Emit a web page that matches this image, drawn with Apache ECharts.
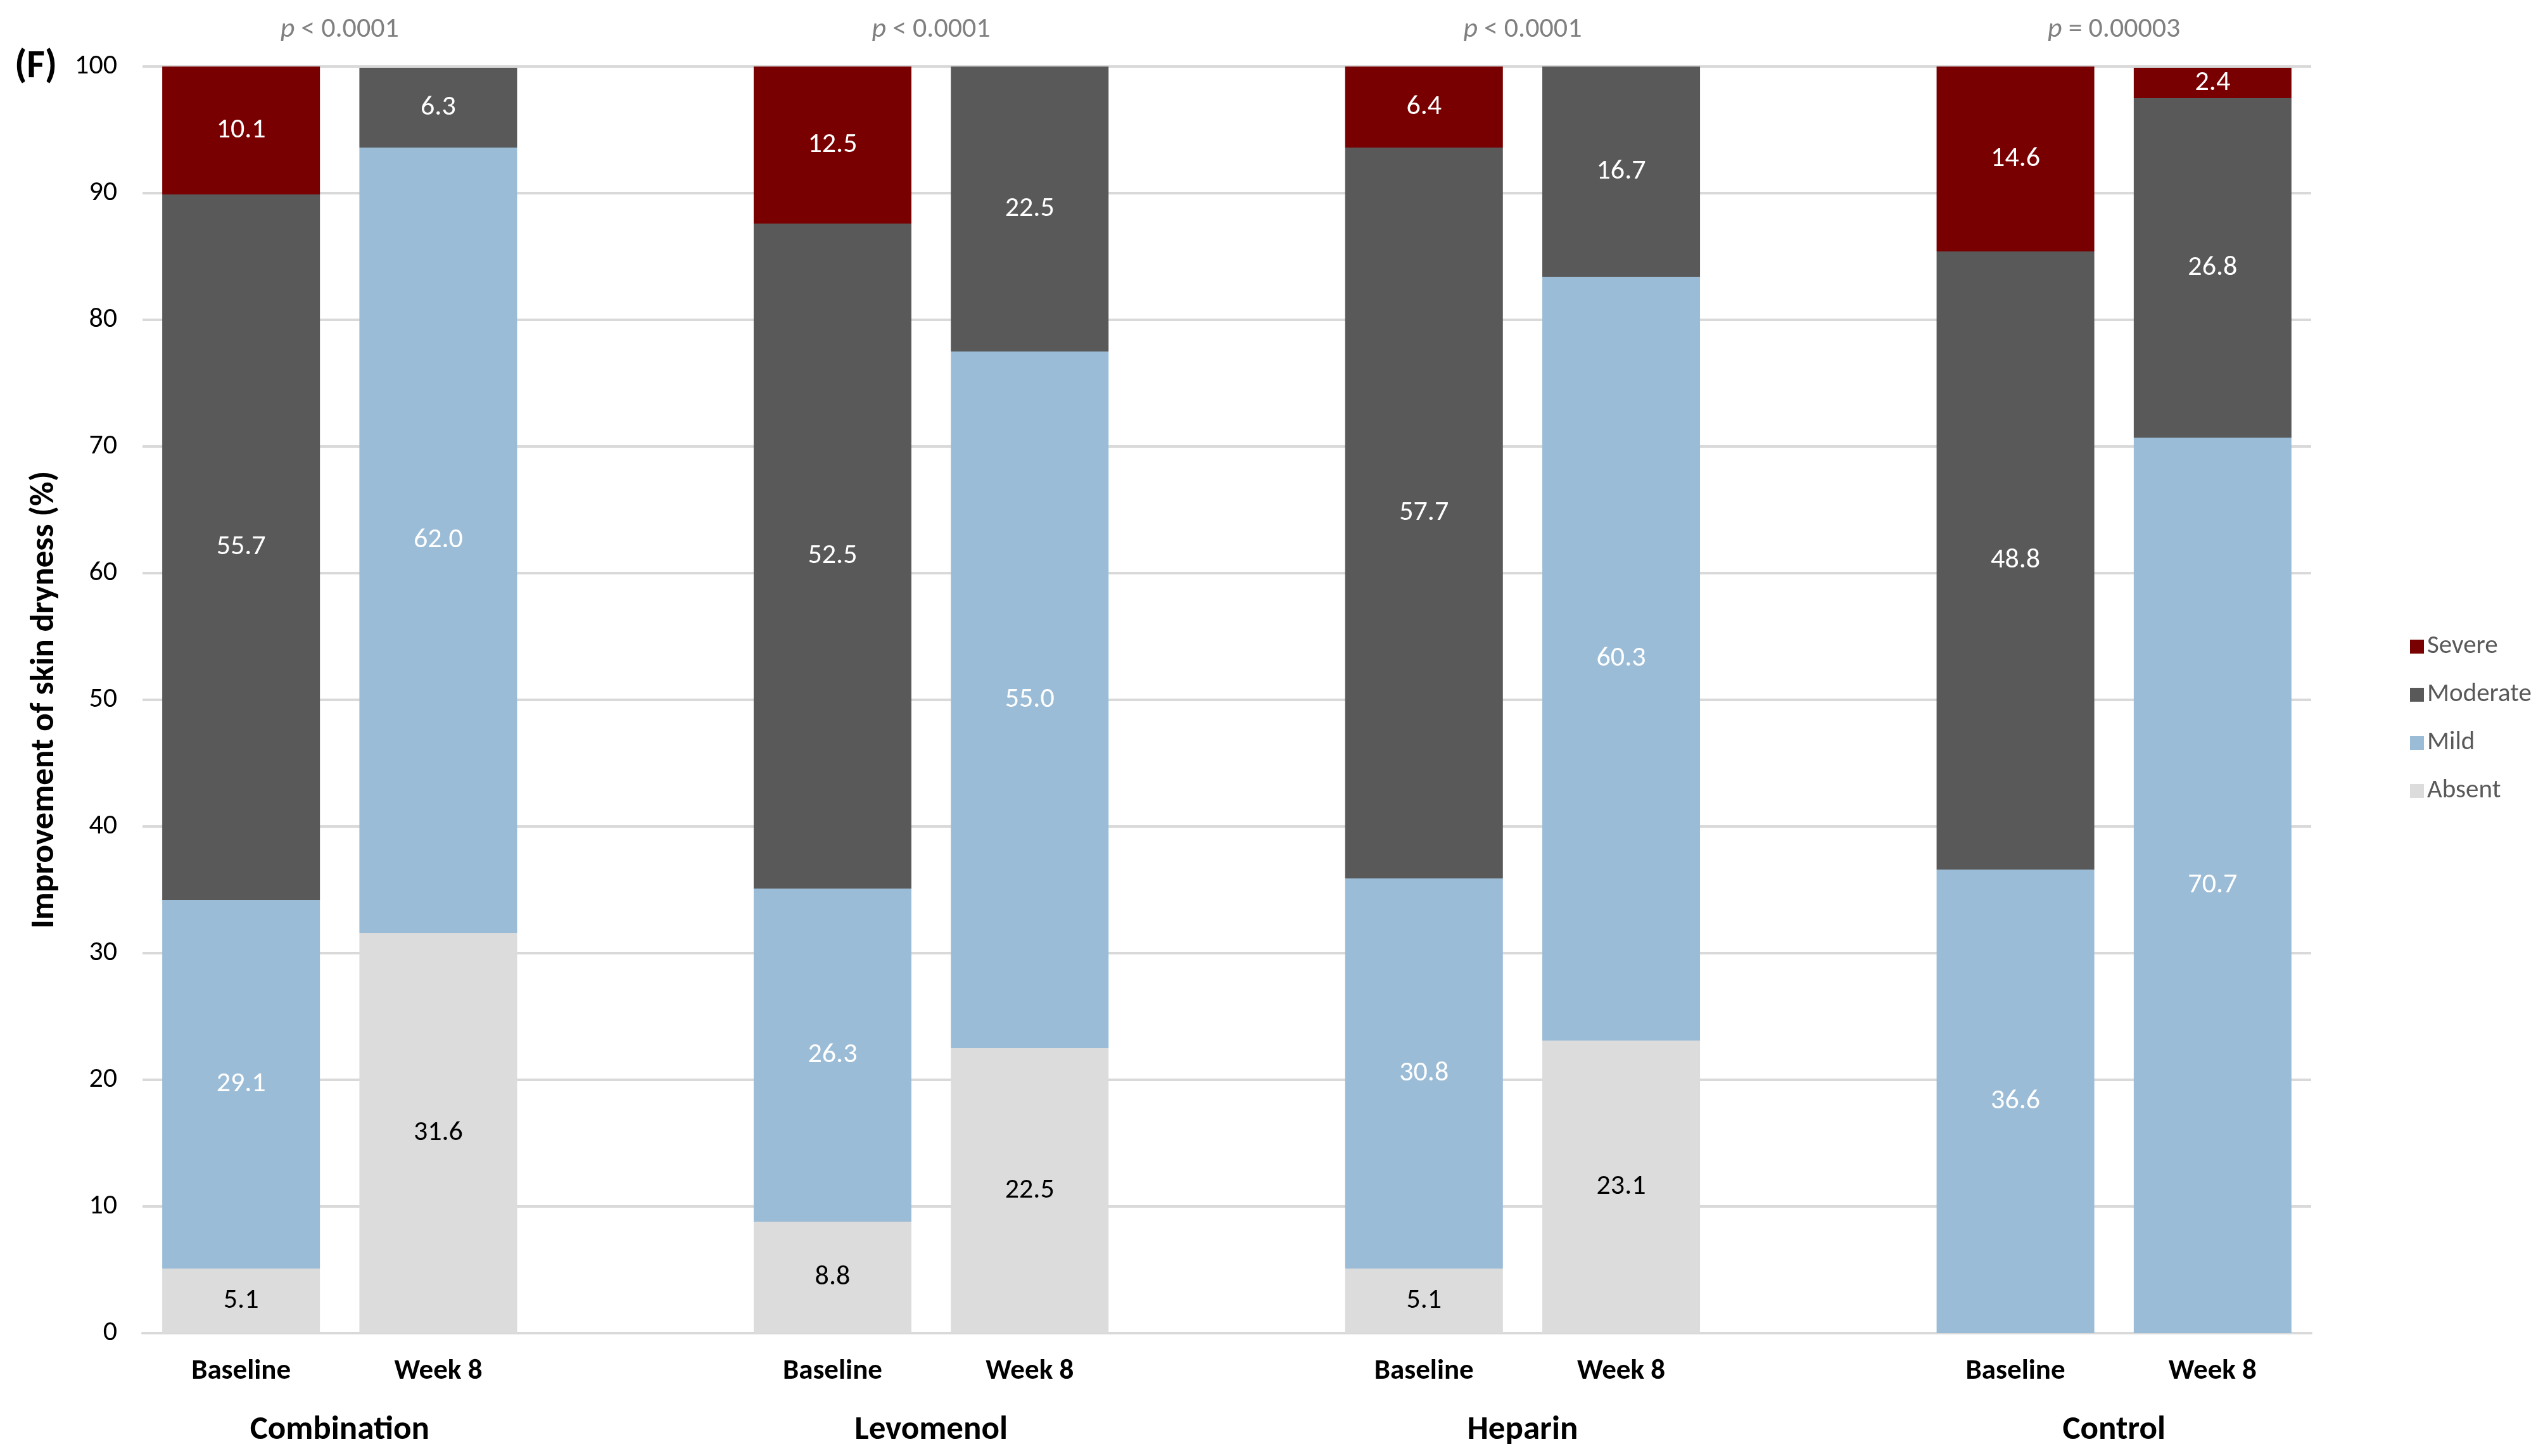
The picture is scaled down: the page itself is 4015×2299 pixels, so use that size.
<!DOCTYPE html>
<html>
<head>
<meta charset="utf-8">
<script src="https://cdn.jsdelivr.net/npm/echarts@6/dist/echarts.min.js"></script>
<style>
html,body{margin:0;padding:0;background:#fff;}
#chart{width:4015px;height:2299px;}
</style>
</head>
<body>
<div id="chart"></div>
<script>
// ---- data ----
const groups = ['Combination', 'Levomenol', 'Heparin', 'Control'];
const timepoints = ['Baseline', 'Week 8'];
const pValues = ['{i|p} < 0.0001', '{i|p} < 0.0001', '{i|p} < 0.0001', '{i|p} = 0.00003'];
// values per group: [Baseline, Week 8], group order as above
const severe   = [10.1, null, 12.5, null, 6.4, null, 14.6, 2.4];
const moderate = [55.7, 6.3, 52.5, 22.5, 57.7, 16.7, 48.8, 26.8];
const mild     = [29.1, 62.0, 26.3, 55.0, 30.8, 60.3, 36.6, 70.7];
const absent   = [5.1, 31.6, 8.8, 22.5, 5.1, 23.1, null, null];
const yTicks = { min: 0, max: 100, interval: 10 };

// ---- build categories with spacer between groups ----
const categories = [];
groups.forEach((g, gi) => {
  timepoints.forEach(t => categories.push(t));
  if (gi < groups.length - 1) categories.push('');
});
function expand(arr) {
  const out = [];
  groups.forEach((g, gi) => {
    out.push(arr[gi * 2], arr[gi * 2 + 1]);
    if (gi < groups.length - 1) out.push(null);
  });
  return out;
}
// half-step slots for group labels (boundaryGap false)
const nSlots = categories.length * 2 + 1;
const groupSlots = new Array(nSlots).fill('');
const pSlots = new Array(nSlots).fill('');
groups.forEach((g, gi) => {
  const slot = (gi * 3 + 1) * 2; // boundary between baseline and week8
  groupSlots[slot] = g;
  pSlots[slot] = pValues[gi];
});

const FONT = 'Carlito, Lato, "Liberation Sans", sans-serif';
const colors = { Severe: '#780000', Moderate: '#595959', Mild: '#9BBCD6', Absent: '#DCDCDC' };

function barSeries(name, data, labelColor) {
  return {
    name: name,
    type: 'bar',
    stack: 'total',
    xAxisIndex: 0,
    yAxisIndex: 0,
    barCategoryGap: '20%',
    data: expand(data),
    itemStyle: { color: colors[name] },
    label: {
      show: true,
      position: 'inside',
      color: labelColor,
      fontFamily: FONT,
      fontSize: 44,
      formatter: p => (p.value == null ? '' : Number(p.value).toFixed(1))
    },
    emphasis: { disabled: true }
  };
}

const chart = echarts.init(document.getElementById('chart'), null, { renderer: 'canvas' });
chart.setOption({
  animation: false,
  backgroundColor: '#ffffff',
  title: {
    text: '(F)',
    left: 18,
    top: 70,
    textStyle: { fontFamily: FONT, fontWeight: 'bold', fontSize: 62, color: '#000' }
  },
  grid: { left: 225, right: 366, top: 105, bottom: 194, containLabel: false },
  legend: {
    orient: 'vertical',
    left: 3800,
    top: 994,
    data: ['Severe', 'Moderate', 'Mild', 'Absent'],
    icon: 'rect',
    itemWidth: 22,
    itemHeight: 22,
    itemGap: 32,
    textStyle: { fontFamily: FONT, fontSize: 41, color: '#595959', lineHeight: 44 },
    selectedMode: false
  },
  xAxis: [
    {
      type: 'category',
      data: categories,
      position: 'bottom',
      axisLine: { show: true, lineStyle: { color: '#D9D9D9', width: 4 } },
      axisTick: { show: false },
      axisLabel: { interval: 0, margin: 38, fontFamily: FONT, fontWeight: 'bold', fontSize: 45, color: '#000' },
      splitLine: { show: false }
    },
    {
      type: 'category',
      data: groupSlots,
      position: 'bottom',
      boundaryGap: false,
      gridIndex: 0,
      axisLine: { show: false },
      axisTick: { show: false },
      axisLabel: { interval: 0, margin: 127, fontFamily: FONT, fontWeight: 'bold', fontSize: 53, color: '#000' },
      splitLine: { show: false }
    },
    {
      type: 'category',
      data: pSlots,
      position: 'top',
      boundaryGap: false,
      gridIndex: 0,
      axisLine: { show: false },
      axisTick: { show: false },
      axisLabel: {
        interval: 0, margin: 36, fontFamily: FONT, fontSize: 44, color: '#808080',
        rich: { i: { fontStyle: 'italic', fontFamily: FONT, fontSize: 44, color: '#808080' } }
      },
      splitLine: { show: false }
    }
  ],
  yAxis: {
    type: 'value',
    min: yTicks.min,
    max: yTicks.max,
    interval: yTicks.interval,
    name: 'Improvement of skin dryness (%)',
    nameLocation: 'middle',
    nameGap: 128,
    nameRotate: 90,
    nameTextStyle: { fontFamily: FONT, fontWeight: 'bold', fontSize: 53, color: '#000' },
    axisLine: { show: false },
    axisTick: { show: false },
    axisLabel: { margin: 40, fontFamily: FONT, fontSize: 44, color: '#000' },
    splitLine: { show: true, lineStyle: { color: '#D9D9D9', width: 4 } }
  },
  series: [
    barSeries('Absent', absent, '#000000'),
    barSeries('Mild', mild, '#ffffff'),
    barSeries('Moderate', moderate, '#ffffff'),
    barSeries('Severe', severe, '#ffffff')
  ]
});
</script>
</body>
</html>
